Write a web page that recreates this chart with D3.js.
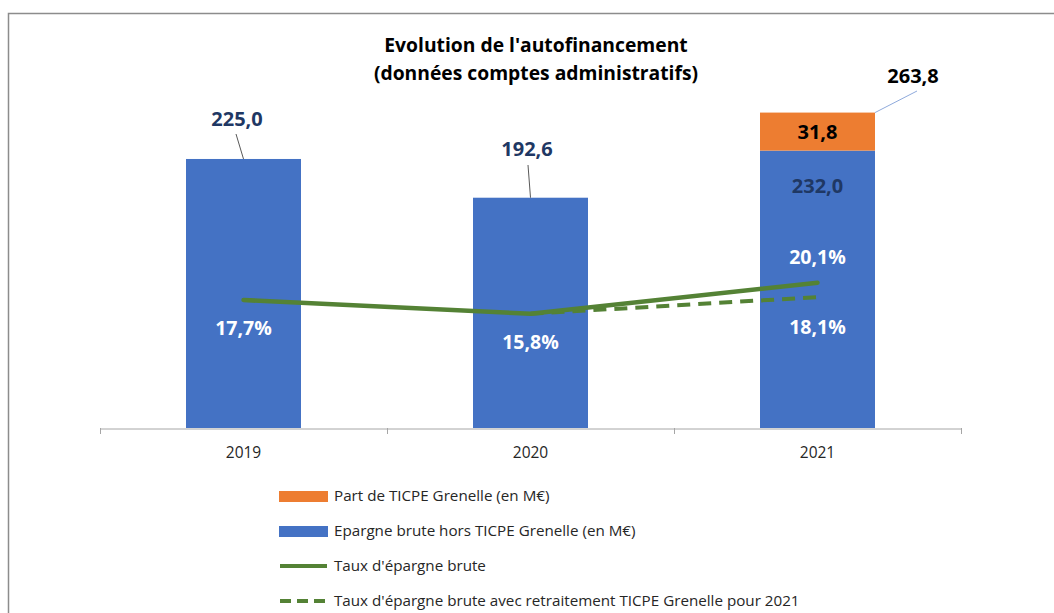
<!DOCTYPE html>
<html>
<head>
<meta charset="utf-8">
<script src="https://cdn.jsdelivr.net/npm/d3@7"></script>
<style>
  body { margin: 0; background: #fff; }
  svg text { font-family: "Open Sans", sans-serif; }
</style>
</head>
<body>
<div id="chart"></div>
<script>
// data
const years = ["2019", "2020", "2021"];
const epargneHors = [225.0, 192.6, 232.0];   // Epargne brute hors TICPE Grenelle (M€)
const partTicpe = [0, 0, 31.8];              // Part de TICPE Grenelle (M€)
const totals = [225.0, 192.6, 263.8];
const tauxBrute = [17.7, 15.8, 20.1];
const tauxRetraite = [null, 15.8, 18.1];
const legendLabels = [
  "Part de TICPE Grenelle (en M€)",
  "Epargne brute hors TICPE Grenelle (en M€)",
  "Taux d'épargne brute",
  "Taux d'épargne brute avec retraitement TICPE Grenelle pour 2021"
];

const w = 1054, h = 613;
const blue = "#4472C4", orange = "#ED7D31", green = "#548235", navy = "#1F3864";
const fmt = v => v.toFixed(1).replace(".", ",");

const svg = d3.select("#chart").append("svg")
  .attr("width", w).attr("height", h);

// chart frame
svg.append("rect")
  .attr("x", 8.5).attr("y", 13.5)
  .attr("width", w + 20).attr("height", h + 20)
  .attr("fill", "none").attr("stroke", "#8c8c8c").attr("stroke-width", 1.5);

// scales
const xBand = d3.scaleBand().domain(years).range([100, 961]);
const y = d3.scaleLinear().domain([0, 300]).range([428, 69.3]);
const y2 = d3.scaleLinear().domain([0, 50]).range([428, 66.5]);
const cx = d => xBand(d) + xBand.bandwidth() / 2;

// title
svg.append("text").attr("x", 536).attr("y", 52).attr("text-anchor", "middle")
  .attr("font-size", 19.3).attr("font-weight", "bold").attr("fill", "#000")
  .text("Evolution de l'autofinancement");
svg.append("text").attr("x", 536).attr("y", 80).attr("text-anchor", "middle")
  .attr("font-size", 19.3).attr("font-weight", "bold").attr("fill", "#000")
  .text("(données comptes administratifs)");

// bars - blue
svg.selectAll("rect.hors").data(years).enter().append("rect")
  .attr("class", "hors")
  .attr("x", d => cx(d) - 57.5)
  .attr("width", 115)
  .attr("y", (d, i) => y(epargneHors[i]))
  .attr("height", (d, i) => y(0) - y(epargneHors[i]))
  .attr("fill", blue);

// bars - orange stacked
svg.selectAll("rect.ticpe").data(years).enter().append("rect")
  .attr("class", "ticpe")
  .attr("x", d => cx(d) - 57.5)
  .attr("width", 115)
  .attr("y", (d, i) => y(epargneHors[i] + partTicpe[i]))
  .attr("height", (d, i) => y(epargneHors[i]) - y(epargneHors[i] + partTicpe[i]))
  .attr("fill", orange);

// x axis
const xAxis = d3.axisBottom(xBand).tickSize(0).tickPadding(0);
const gx = svg.append("g").attr("transform", "translate(0,428.5)").call(xAxis);
gx.select(".domain").attr("stroke", "#a6a6a6").attr("stroke-width", 1);
gx.selectAll(".tick text").attr("dy", 0).attr("y", 29).attr("font-size", 15.5).attr("fill", "#262626")
  .style("font-family", "'Open Sans', sans-serif");
// category separators
svg.selectAll("line.sep").data([0, 1, 2, 3]).enter().append("line")
  .attr("class", "sep")
  .attr("x1", i => 100 + i * xBand.step() + 0.5).attr("x2", i => 100 + i * xBand.step() + 0.5)
  .attr("y1", 428).attr("y2", 434)
  .attr("stroke", "#a6a6a6");

// lines
const line = d3.line().defined(d => d.v != null).x(d => cx(d.year)).y(d => y2(d.v));
svg.append("path")
  .datum(years.map((d, i) => ({ year: d, v: tauxRetraite[i] })))
  .attr("d", line).attr("fill", "none").attr("stroke", green)
  .attr("stroke-width", 4).attr("stroke-dasharray", "13,8");
svg.append("path")
  .datum(years.map((d, i) => ({ year: d, v: tauxBrute[i] })))
  .attr("d", line).attr("fill", "none").attr("stroke", green)
  .attr("stroke-width", 4.5).attr("stroke-linecap", "round");

// percentage labels
const pctLabels = [
  { year: "2019", v: tauxBrute[0], dy: 35 },
  { year: "2020", v: tauxBrute[1], dy: 35 },
  { year: "2021", v: tauxBrute[2], dy: -19 },
  { year: "2021", v: tauxRetraite[2], dy: 37 }
];
svg.selectAll("text.pct").data(pctLabels).enter().append("text")
  .attr("class", "pct")
  .attr("x", d => cx(d.year)).attr("y", d => y2(d.v) + d.dy)
  .attr("text-anchor", "middle").attr("font-size", 19.5).attr("font-weight", "bold")
  .attr("fill", "#fff").text(d => fmt(d.v) + "%");

// value labels with leader lines
const valLabels = [
  { year: "2019", v: totals[0], lx: 237, ly: 126, x1: 236, y1: 134, fill: navy },
  { year: "2020", v: totals[1], lx: 527, ly: 156, x1: 528, y1: 165, fill: navy }
];
valLabels.forEach(d => {
  svg.append("line").attr("x1", d.x1).attr("y1", d.y1)
    .attr("x2", cx(d.year)).attr("y2", y(d.v))
    .attr("stroke", "#595959").attr("stroke-width", 1);
  svg.append("text").attr("x", d.lx).attr("y", d.ly).attr("text-anchor", "middle")
    .attr("font-size", 20).attr("font-weight", "bold").attr("fill", d.fill).text(fmt(d.v));
});

// 2021 labels
svg.append("line").attr("x1", cx("2021") + 57.5).attr("y1", y(totals[2]))
  .attr("x2", 917).attr("y2", 91).attr("stroke", "#8faadc").attr("stroke-width", 1);
svg.append("text").attr("x", 913).attr("y", 83).attr("text-anchor", "middle")
  .attr("font-size", 20).attr("font-weight", "bold").attr("fill", "#000").text(fmt(totals[2]));
svg.append("text").attr("x", cx("2021")).attr("y", (y(totals[2]) + y(epargneHors[2])) / 2 + 7)
  .attr("text-anchor", "middle").attr("font-size", 20).attr("font-weight", "bold")
  .attr("fill", "#000").text(fmt(partTicpe[2]));
svg.append("text").attr("x", cx("2021")).attr("y", y(epargneHors[2]) + 42)
  .attr("text-anchor", "middle").attr("font-size", 20).attr("font-weight", "bold")
  .attr("fill", navy).text(fmt(epargneHors[2]));

// legend
const legend = svg.append("g").attr("transform", "translate(279,0)");
const legRows = [
  { label: legendLabels[0], type: "rect", color: orange, y: 496 },
  { label: legendLabels[1], type: "rect", color: blue, y: 531 },
  { label: legendLabels[2], type: "line", color: green, y: 566 },
  { label: legendLabels[3], type: "dash", color: green, y: 601 }
];
legRows.forEach(r => {
  if (r.type === "rect") {
    legend.append("rect").attr("x", 0).attr("y", r.y - 5).attr("width", 49).attr("height", 11).attr("fill", r.color);
  } else {
    legend.append("line").attr("x1", 1).attr("x2", 48).attr("y1", r.y).attr("y2", r.y)
      .attr("stroke", r.color).attr("stroke-width", 4)
      .attr("stroke-dasharray", r.type === "dash" ? "11,6" : null);
  }
  legend.append("text").attr("x", 55).attr("y", r.y + 5).attr("font-size", 15.2)
    .attr("fill", "#262626").text(r.label);
});
</script>
</body>
</html>
